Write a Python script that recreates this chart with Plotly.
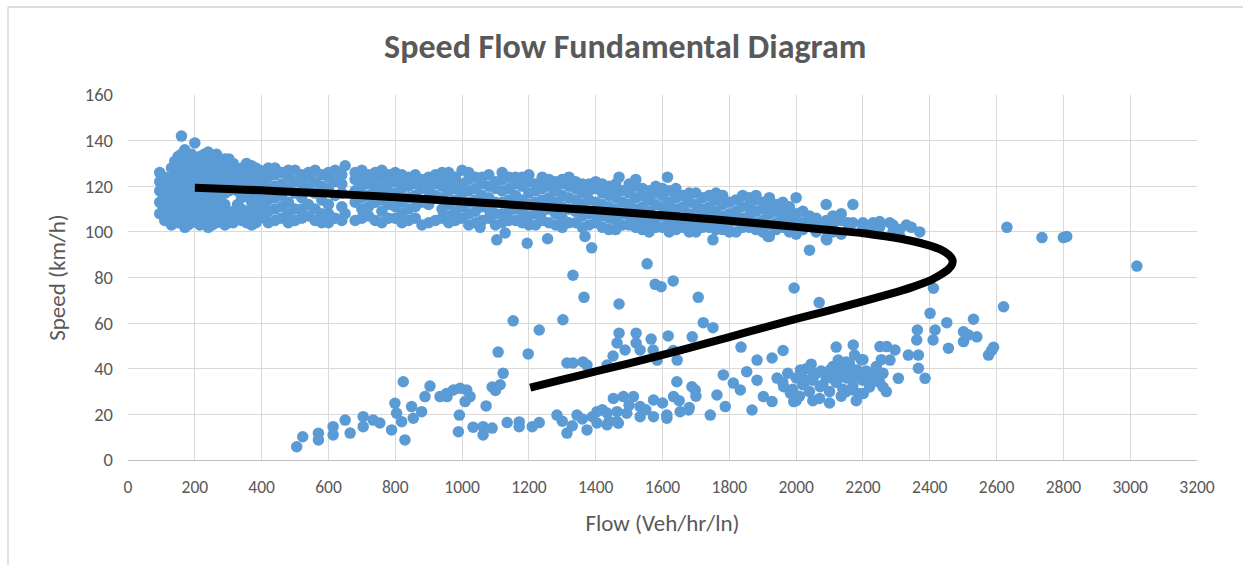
import plotly.graph_objects as go

# ---------------- data ----------------
# free-flow branch: (flow, [speeds observed at about that flow])
free_flow_cols = [
    (95, [108, 113, 118, 122, 126]),
    (105, [111, 116, 121]),
    (110, [105, 110, 115, 120, 124]),
    (130, [103, 108, 113, 118, 123, 128]),
    (140, [106, 111, 116, 121, 126, 131]),
    (150, [104, 109, 114, 119, 124, 129, 133]),
    (160, [142, 104, 109, 114, 119, 124, 129, 134]),
    (170, [102, 107, 112, 117, 122, 127, 131, 136]),
    (180, [103, 108, 113, 118, 123, 128, 133]),
    (190, [104, 109, 114, 121, 125, 130, 134]),
    (200, [139]),
    (205, [106, 111, 116, 123, 127, 132]),
    (215, [103, 108, 113, 118, 123, 128, 133]),
    (228, [104, 109, 114, 120, 125, 130, 134]),
    (240, [102, 106, 111, 116, 121, 126, 131, 135]),
    (252, [103, 108, 113, 118, 123, 128, 133]),
    (265, [104, 109, 114, 119, 124, 129, 134]),
    (278, [105, 110, 116, 121, 126, 131]),
    (290, [103, 107, 112, 117, 122, 127, 132]),
    (302, [104, 108, 118, 123, 128, 132]),
    (315, [104, 109, 121, 125, 130]),
    (328, [106, 112, 118, 122, 127]),
    (340, [105, 110, 115, 120, 124, 128]),
    (355, [104, 109, 116, 121, 126, 130]),
    (370, [103, 108, 113, 118, 123, 129]),
    (383, [104, 109, 114, 119, 125, 128]),
    (395, [106, 111, 116, 121, 127]),
    (408, [107, 112, 117, 122, 126]),
    (420, [104, 109, 114, 119, 124, 128]),
    (440, [105, 110, 115, 120, 125, 128]),
    (460, [106, 111, 116, 121, 126]),
    (480, [104, 108, 113, 119, 124, 127]),
    (500, [105, 110, 117, 122, 127]),
    (520, [106, 110, 115, 121, 125]),
    (540, [107, 112, 119, 124, 126]),
    (560, [105, 110, 117, 122, 127]),
    (580, [104, 108, 114, 120, 125]),
    (600, [104, 108, 112, 119, 124, 126]),
    (620, [106, 116, 122, 127]),
    (640, [105, 111, 117, 121, 125]),
    (650, [129, 108]),
    (680, [105, 113, 118, 123, 126]),
    (700, [106, 110, 115, 120, 124, 127]),
    (720, [107, 111, 116, 121, 125]),
    (740, [105, 113, 118, 122, 126]),
    (760, [104, 109, 114, 119, 124, 127]),
    (780, [106, 112, 117, 121, 125]),
    (800, [106, 111, 117, 122, 126]),
    (820, [104, 108, 113, 119, 123, 125]),
    (840, [105, 110, 115, 120, 124]),
    (860, [106, 111, 116, 121, 125]),
    (880, [103, 113, 119, 123]),
    (900, [104, 112, 118, 122, 124]),
    (920, [105, 116, 121, 125]),
    (940, [106, 110, 115, 120, 124, 126]),
    (960, [104, 107, 112, 118, 122, 126]),
    (980, [105, 109, 114, 119, 124]),
    (1000, [106, 111, 117, 121, 127]),
    (1020, [103, 108, 113, 118, 123, 126]),
    (1040, [104, 109, 114, 119, 124]),
    (1060, [105, 111, 116, 121, 124]),
    (1080, [106, 110, 115, 120, 125]),
    (1100, [103, 108, 113, 119, 122]),
    (1120, [104, 108, 113, 118, 123, 126]),
    (1140, [105, 109, 114, 119, 124]),
    (1160, [105, 110, 116, 121, 124]),
    (1180, [104, 109, 114, 120, 124]),
    (1200, [103, 107, 112, 117, 122, 125]),
    (1220, [103, 108, 113, 118, 121]),
    (1240, [105, 109, 114, 119, 123, 124]),
    (1260, [104, 110, 115, 120, 123]),
    (1280, [103, 108, 113, 118, 122]),
    (1300, [102, 106, 111, 116, 121, 123]),
    (1320, [104, 110, 115, 120, 124]),
    (1340, [104, 109, 114, 119, 122]),
    (1360, [102, 107, 112, 117, 121]),
    (1380, [103, 108, 114, 118, 121]),
    (1400, [104, 108, 113, 119, 122]),
    (1420, [102, 107, 112, 117, 121]),
    (1440, [101, 106, 111, 116, 120]),
    (1460, [101, 105, 110, 115, 119, 121]),
    (1470, [124]),
    (1480, [103, 108, 113, 118]),
    (1500, [103, 107, 112, 117, 121]),
    (1520, [102, 106, 110, 115, 120, 123]),
    (1540, [101, 105, 111, 116, 119]),
    (1560, [100, 104, 109, 114, 118]),
    (1580, [102, 106, 112, 117, 120]),
    (1600, [102, 107, 111, 116, 119]),
    (1615, [124]),
    (1620, [100, 104, 109, 113, 118]),
    (1640, [101, 105, 110, 115, 119]),
    (1660, [102, 106, 111, 116]),
    (1680, [100, 104, 108, 113, 117]),
    (1700, [100, 104, 108, 112, 117]),
    (1720, [102, 106, 110, 115]),
    (1740, [102, 107, 111, 116]),
    (1760, [101, 105, 109, 114, 117]),
    (1780, [101, 103, 107, 112, 116]),
    (1800, [100, 104, 108, 113]),
    (1820, [100, 105, 109, 114]),
    (1840, [102, 106, 111, 116]),
    (1860, [102, 107, 111, 115]),
    (1880, [101, 104, 109, 114, 116]),
    (1900, [100, 105, 110, 113]),
    (1920, [98, 103, 108, 111, 115]),
    (1940, [101, 104, 109, 112]),
    (1960, [102, 106, 110, 113]),
    (1980, [100, 104, 107, 111]),
    (2000, [99, 102, 105, 108, 115]),
    (2020, [101, 104, 109]),
    (2040, [92, 103, 107]),
    (2060, [100, 103, 106]),
    (2090, [97, 101, 105, 112]),
    (2110, [100, 103, 107]),
    (2135, [99, 105, 108]),
    (2155, [101, 104]),
    (2170, [104, 112]),
    (2200, [104, 102]),
    (2230, [101, 104]),
    (2250, [104.5, 102]),
    (2280, [104]),
    (2290, [100, 103]),
    (2310, [98, 101]),
    (2330, [103]),
    (2345, [102]),
    (2370, [100]),
]

free_flow_extra = [
    (1054, 102), (1104, 96.5), (1129, 99.5), (1195, 95), (1256, 97),
    (1171, 105), (1388, 93), (1368, 98), (1751, 96.5), (1916, 98),
    (2092, 96.5), (2631, 102), (2736, 97.5), (2800, 97.5), (2810, 98),
    (3020, 85),
]

transition_pts = [
    (1332, 81), (1554, 86), (1578, 77), (1596, 76), (1632, 78.5),
    (1365, 71.3), (1470, 68.4), (1707, 71.3), (1994, 75.4), (2069, 69),
    (2411, 75.3), (2401, 64.3), (2621, 67.2),
    (1153, 61), (1231, 57), (1302, 61.5), (1108, 47.3), (1198, 46.5),
    (1722, 60.2), (1751, 58),
    (1470, 55.6), (1521, 55.6), (1464, 51.3), (1521, 51.3), (1566, 53),
    (1617, 54.4), (1689, 54), (1452, 45.6), (1488, 48.2), (1533, 48.2),
    (1572, 48.2), (1632, 48), (1434, 41.6), (1332, 42.5), (1362, 43),
    (1374, 41.6), (1314, 42.5), (1644, 43.8), (1584, 43.8),
    (1835, 49.5), (1883, 43.8), (1928, 44.7), (1961, 48), (2120, 49.5),
    (2171, 50.4), (2126, 43.8),
]

congested_pts = [
    (505, 5.8), (523, 10.2), (570, 11.7), (570, 8.8), (614, 14.6), (614, 11),
    (650, 17.5), (665, 11.8), (704, 19), (704, 14.6), (734, 17.5), (754, 16.2),
    (789, 13.2), (799, 24.9), (804, 20.5), (824, 34.3), (829, 8.8), (819, 16.8),
    (849, 23.4), (854, 18.3), (879, 21.2), (889, 27.8), (904, 32.4),
    (934, 27.8), (954, 29.2), (974, 30.7), (994, 31.4), (1014, 30.7),
    (1024, 27.8), (1009, 25.6), (992, 19.7), (989, 12.4), (1033, 14.4),
    (955, 27.8), (1063, 14.6), (1063, 11), (1090, 14), (1072, 23.7),
    (1135, 16.4), (1171, 16.7), (1171, 14.6), (1210, 14.6), (1231, 16.4),
    (1123, 38), (1090, 32), (1114, 33), (1100, 30.5),
    (1284, 19.7), (1314, 11.8), (1344, 19.7), (1374, 13.2), (1404, 21.2),
    (1404, 16.2), (1434, 20.6), (1434, 15.4), (1464, 21.2), (1464, 16.8),
    (1300, 17), (1330, 15), (1360, 18), (1390, 19), (1420, 22), (1440, 17),
    (1453, 27), (1483, 27.8), (1513, 27.8), (1468, 16.1), (1493, 20.5),
    (1533, 19), (1533, 23.4), (1573, 26.3), (1573, 19), (1613, 19.7),
    (1613, 18.3), (1633, 27.8), (1643, 34.3), (1653, 21.2), (1678, 21.9),
    (1688, 32.1), (1698, 30.7), (1500, 24), (1550, 22), (1600, 25),
    (1650, 26), (1680, 23), (1700, 28),
    (1743, 19.7), (1763, 28.5), (1782, 37.3), (1788, 23.4), (1812, 33.7),
    (1833, 30.7), (1852, 38.7), (1868, 21.9), (1883, 35), (1902, 27.8),
    (1928, 25.6), (1943, 35.9), (1963, 32.1), (1983, 29.3), (1993, 25.6),
    (2013, 39.5), (2033, 35), (2053, 37.3), (2072, 32.1), (2102, 39.5),
    (2122, 35), (2152, 36.5), (2182, 39.5), (2171, 30.7),
    (1960, 34), (1975, 38), (1990, 31), (2000, 36), (2010, 28), (2020, 33),
    (2030, 40), (2040, 30), (2050, 35), (2060, 38), (2070, 27), (2080, 33),
    (2090, 36), (2100, 30), (2110, 41), (2120, 34), (2130, 38), (2140, 31),
    (2150, 36), (2160, 42), (2170, 33), (2180, 37), (2190, 29), (2200, 35),
    (2210, 39), (2220, 32), (2230, 36), (2240, 41), (2250, 34), (2260, 38),
    (2270, 30), (2015, 37), (2045, 42), (2075, 39), (2105, 36), (2135, 28),
    (2165, 39), (2195, 44), (2225, 38), (2255, 44), (2000, 26), (2050, 26),
    (2100, 25), (2180, 26), (2150, 30), (2140, 40), (2150, 43), (2175, 46),
    (2200, 44), (2220, 38), (2240, 35), (2260, 32), (2201, 29.2),
    (2251, 49.7), (2271, 49.7), (2296, 48.2), (2281, 43.8), (2241, 39.5),
    (2306, 35.8), (2336, 46), (2366, 46), (2366, 40.2), (2386, 35.8),
    (2361, 52.6), (2410, 52.6), (2363, 57), (2416, 57), (2451, 60.2),
    (2531, 61.7), (2501, 56.2), (2516, 54.8), (2541, 54), (2501, 51.9),
    (2456, 49), (2591, 49.4), (2576, 46), (2585, 48),
]

# fitted speed-flow model curve
curve_flow = [200, 300, 400, 500, 600, 700, 800, 900, 1000, 1100, 1200, 1300,
              1400, 1500, 1600, 1700, 1800, 1900, 2000, 2100, 2200, 2250, 2300,
              2350, 2400, 2430, 2455, 2468, 2466, 2455, 2435, 2400, 2350, 2300,
              2200, 2100, 2000, 1900, 1800, 1700, 1600, 1500, 1400, 1300, 1204]
curve_speed = [119.3, 118.8, 118.2, 117.5, 116.8, 116.0, 115.2, 114.3, 113.3,
               112.4, 111.4, 110.4, 109.5, 108.4, 107.3, 106.1, 104.9, 103.6,
               102.2, 100.8, 99.4, 98.4, 97.3, 95.9, 94.0, 92.4, 90.2, 87.8,
               85.5, 83.5, 81.5, 78.6, 75.9, 73.6, 69.5, 65.6, 61.9, 57.9, 53.9,
               49.9, 46.1, 42.4, 38.8, 35.2, 31.7]

x_ticks = list(range(0, 3201, 200))
y_ticks = list(range(0, 161, 20))

# ---------------- build ----------------
obs_flow, obs_speed = [], []
for f, speeds in free_flow_cols:
    for s in speeds:
        obs_flow.append(f)
        obs_speed.append(s)
for grp in (free_flow_extra, transition_pts, congested_pts):
    for f, s in grp:
        obs_flow.append(f)
        obs_speed.append(s)

FONT = "Carlito, Calibri, Lato, sans-serif"
GRAY = "#595959"

fig = go.Figure()
fig.add_trace(go.Scatter(
    x=obs_flow, y=obs_speed, mode="markers",
    marker=dict(size=11.5, color="#5B9BD5", line=dict(width=0)),
    showlegend=False, hoverinfo="x+y"))
fig.add_trace(go.Scatter(
    x=curve_flow, y=curve_speed, mode="lines",
    line=dict(color="black", width=8, shape="spline", smoothing=0.6),
    showlegend=False))

fig.update_layout(
    width=1243, height=565,
    margin=dict(l=128, r=46, t=95, b=105),
    paper_bgcolor="white", plot_bgcolor="white",
    font=dict(family=FONT, color=GRAY, size=16),
    title=dict(text="<b>Speed Flow Fundamental Diagram</b>",
               x=0.503, xanchor="center", y=0.918, yanchor="middle",
               font=dict(family=FONT, size=34, color=GRAY)),
    xaxis=dict(range=[0, 3200], tickvals=x_ticks, ticktext=[str(v) for v in x_ticks],
               showgrid=True, gridcolor="#d9d9d9", gridwidth=1,
               zeroline=False, showline=True, linecolor="#bfbfbf", linewidth=1,
               mirror=False, ticks="", ticklabelstandoff=11,
               tickfont=dict(size=17.5, color=GRAY),
               title=dict(text="Flow (Veh/hr/ln)", font=dict(size=23, color=GRAY), standoff=17)),
    yaxis=dict(range=[0, 160], tickvals=y_ticks, ticktext=[str(v) for v in y_ticks],
               showgrid=True, gridcolor="#d9d9d9", gridwidth=1,
               zeroline=False, showline=False, ticks="", ticklabelstandoff=14,
               tickfont=dict(size=18.5, color=GRAY),
               title=dict(text="Speed (km/h)", font=dict(size=23, color=GRAY), standoff=12)),
)

# light frame lines of the original chart object (left and top edges)
fig.add_shape(type="line", xref="paper", yref="paper",
              x0=(8 - 128) / 1069, x1=(8 - 128) / 1069, y0=(460 - 7) / 365, y1=(460 - 565) / 365,
              line=dict(color="#d9d9d9", width=1.5))
fig.add_shape(type="line", xref="paper", yref="paper",
              x0=(8 - 128) / 1069, x1=(1243 - 128) / 1069, y0=(460 - 7) / 365, y1=(460 - 7) / 365,
              line=dict(color="#dcdcdc", width=2))

fig.write_html("out.html")
